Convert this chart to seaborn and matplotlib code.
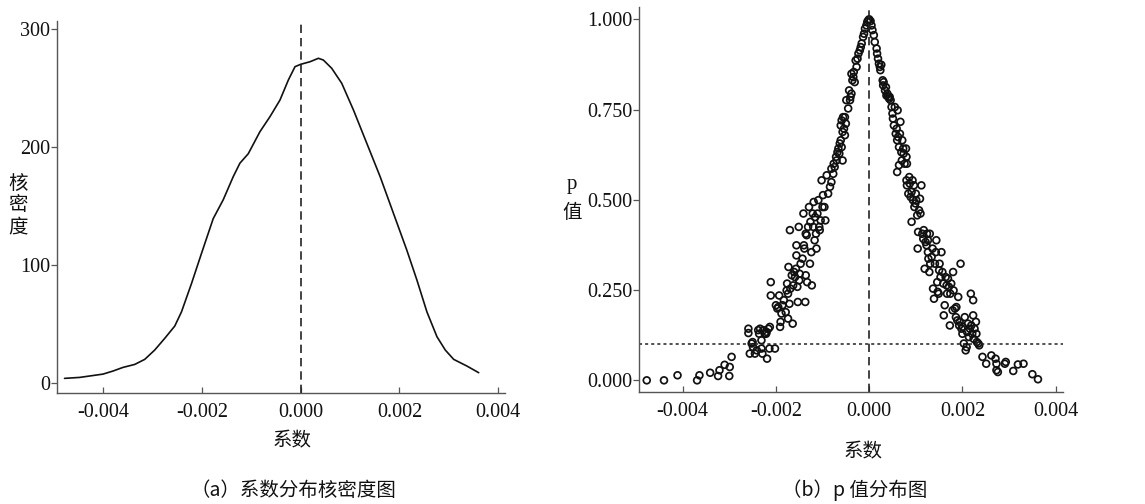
import numpy as np
import pandas as pd
import matplotlib
matplotlib.use("Agg")
import matplotlib.pyplot as plt
from matplotlib.font_manager import FontProperties
import seaborn as sns

# ---------------- data ----------------
kde_x = [-0.004785, -0.00448, -0.004007, -0.003804, -0.0036, -0.003364, -0.00316, -0.002958,
         -0.002755, -0.002552, -0.002416, -0.002213, -0.00201, -0.001773, -0.00157, -0.001367,
         -0.001232, -0.001063, -0.000826, -0.000623, -0.00042, -0.00025, -0.000115, 0.0,
         0.00019, 0.000359, 0.00046, 0.000629, 0.000832, 0.00107, 0.00134, 0.00161, 0.00188,
         0.00215, 0.002355, 0.002558, 0.002761, 0.00293, 0.0031, 0.00337, 0.003607]
kde_y = [3.7, 4.5, 7.3, 9.9, 13.0, 15.5, 19.8, 27.7, 37.6, 48.0, 60.0, 84.0, 109.6, 139.0,
         155.0, 174.6, 186.0, 194.0, 212.7, 225.4, 239.5, 256.5, 267.8, 269.8, 272.0, 274.9,
         273.4, 266.4, 253.7, 231.0, 202.8, 174.6, 143.5, 112.4, 87.0, 60.0, 39.0, 27.7, 19.8,
         14.1, 8.5]

coef = [-0.00477, -0.0044, -0.00411, -0.00369, -0.00364, -0.00341, -0.00324, -0.00321, -0.0031,
        -0.003, -0.00299, -0.00295,
        -0.00259, -0.00259, -0.00256, -0.00252, -0.0025, -0.00249, -0.00245, -0.00241, -0.00238,
        -0.00236, -0.00234, -0.00231, -0.00231, -0.00229, -0.00227, -0.00224, -0.00221, -0.0022,
        -0.00219, -0.00216, -0.00214, -0.00213, -0.00211, -0.00211, -0.00202, -0.002, -0.00197,
        -0.00195, -0.00193, -0.00191, -0.0019, -0.00188, -0.00186, -0.00183, -0.00179, -0.00177,
        -0.00176, -0.00174, -0.00174, -0.00173, -0.00171, -0.0017, -0.00169, -0.00166, -0.00164,
        -0.00163, -0.00161, -0.00159, -0.00157, -0.00156, -0.00156, -0.00154, -0.00153, -0.00151,
        -0.0015, -0.00149, -0.00147, -0.00143, -0.00141, -0.0014, -0.00139, -0.00137, -0.00136,
        -0.00136, -0.00134, -0.00133, -0.00131, -0.00129, -0.00127, -0.00126, -0.00124, -0.00123,
        -0.00121, -0.0012, -0.00119, -0.00117, -0.00116, -0.00114, -0.00113, -0.00111, -0.00109,
        -0.00107, -0.00106, -0.00104, -0.00102, -0.001, -0.00099, -0.00096, -0.00094, -0.00091,
        -0.00088, -0.00084, -0.00081, -0.00081, -0.00077, -0.00076, -0.00074, -0.00071, -0.0007,
        -0.00068, -0.00066, -0.00064, -0.00063, -0.00061, -0.00059, -0.00057, -0.00061, -0.00059,
        -0.00057, -0.00056, -0.00054, -0.00052, -0.00052, -0.0005, -0.00049, -0.00045, -0.00043,
        -0.00041, -0.0004, -0.00038, -0.00038, -0.00036, -0.00034, -0.00033, -0.00031, -0.00029,
        -0.00027, -0.00025, -0.00023, -0.0002, -0.00018, -0.00016, -0.00013, -0.00011, -0.00009,
        -0.00006, -0.00004, -0.00002, 0.0,
        0.00003, 0.00005, 0.00007, 0.0001, 0.00012, 0.00016, 0.00017, 0.00019, 0.00021, 0.00023,
        0.00024, 0.00026, 0.00029, 0.0003, 0.00031, 0.00034, 0.00036, 0.00037, 0.00039, 0.00041,
        0.00043, 0.00044, 0.00046, 0.00048, 0.0005, 0.00051, 0.00053, 0.00055, 0.00057, 0.00059,
        0.0006, 0.00061, 0.00062, 0.00064, 0.00066, 0.00067, 0.00069, 0.0007, 0.00071, 0.00073,
        0.00074, 0.00076, 0.00079, 0.0008, 0.00081, 0.0006, 0.00064, 0.0008, 0.00081, 0.00084,
        0.00086, 0.00087, 0.00089, 0.00091, 0.00091, 0.00093, 0.00094, 0.00096, 0.00097, 0.00099,
        0.001, 0.00101, 0.00103, 0.00104, 0.00105, 0.00107, 0.00109, 0.0011, 0.00112, 0.00114,
        0.00116, 0.00117, 0.00119, 0.00121, 0.00123, 0.00124, 0.00126, 0.00126, 0.00127, 0.00129,
        0.0013, 0.00131, 0.00134, 0.00136, 0.00137, 0.00139, 0.00141, 0.00143, 0.00144, 0.00146,
        0.00147, 0.00149, 0.0015, 0.00151, 0.00153, 0.00155, 0.00157, 0.00159, 0.0016, 0.00162,
        0.00164, 0.00166, 0.00167, 0.00169, 0.00171, 0.00173, 0.00174, 0.00176, 0.00179, 0.0018,
        0.00181, 0.00184, 0.00186, 0.00187, 0.00189, 0.00191, 0.00193, 0.00194, 0.00196, 0.00198,
        0.002, 0.00201, 0.00203, 0.00205, 0.00207, 0.00209, 0.0021, 0.00212, 0.00214, 0.00216,
        0.00218, 0.00219, 0.00221, 0.00223, 0.00223, 0.00224, 0.00226, 0.00229, 0.0023, 0.00231,
        0.00234, 0.00236, 0.00243, 0.00251, 0.00262, 0.00271, 0.00273, 0.00276, 0.00273, 0.00291,
        0.00293, 0.00309, 0.00319, 0.00331, 0.0035, 0.00362]
pval = [0.0, 0.0, 0.014, 0.0, 0.014, 0.021, 0.012, 0.028, 0.043, 0.012, 0.037, 0.065,
        0.143, 0.131, 0.074, 0.102, 0.106, 0.092, 0.074, 0.083, 0.139, 0.129, 0.143, 0.111,
        0.088, 0.074, 0.139, 0.129, 0.129, 0.134, 0.06, 0.143, 0.088, 0.148, 0.272, 0.235,
        0.088, 0.208, 0.199, 0.203, 0.235, 0.148, 0.162, 0.185, 0.208, 0.222, 0.189, 0.249,
        0.268, 0.24, 0.171, 0.314, 0.212, 0.416, 0.254, 0.291, 0.157, 0.263, 0.3, 0.286,
        0.309, 0.346, 0.374, 0.259, 0.217, 0.425, 0.277, 0.295, 0.323, 0.337, 0.462, 0.374,
        0.365, 0.217, 0.406, 0.291, 0.402, 0.272, 0.425, 0.48, 0.323, 0.439, 0.355, 0.263,
        0.462, 0.425, 0.494, 0.388, 0.452, 0.406, 0.365, 0.462, 0.499, 0.425, 0.416, 0.443,
        0.554, 0.48, 0.513, 0.48, 0.443, 0.568, 0.517, 0.536, 0.549, 0.586, 0.572, 0.6,
        0.591, 0.619, 0.609, 0.632, 0.642, 0.628, 0.656, 0.665, 0.646, 0.609, 0.706, 0.72,
        0.688, 0.729, 0.697, 0.679, 0.729, 0.711, 0.776, 0.753, 0.803, 0.776, 0.785, 0.794,
        0.849, 0.831, 0.84, 0.854, 0.826, 0.886, 0.868, 0.891, 0.905, 0.914, 0.923, 0.933,
        0.951, 0.96, 0.974, 0.983, 0.993, 0.997, 1.0,
        0.995, 0.983, 0.97, 0.956, 0.937, 0.919, 0.905, 0.891, 0.877, 0.868, 0.859, 0.874,
        0.831, 0.817, 0.826, 0.803, 0.812, 0.789, 0.794, 0.785, 0.78, 0.785, 0.776, 0.757,
        0.739, 0.725, 0.706, 0.757, 0.683, 0.697, 0.665, 0.748, 0.674, 0.646, 0.683, 0.716,
        0.632, 0.609, 0.665, 0.642, 0.628, 0.6, 0.642, 0.619, 0.6, 0.577, 0.596, 0.554,
        0.54, 0.517, 0.563, 0.545, 0.508, 0.522, 0.439, 0.554, 0.499, 0.54, 0.48, 0.49,
        0.517, 0.499, 0.457, 0.365, 0.411, 0.471, 0.503, 0.462, 0.54, 0.406, 0.392, 0.416,
        0.309, 0.383, 0.374, 0.406, 0.355, 0.388, 0.337, 0.3, 0.406, 0.323, 0.342, 0.365,
        0.254, 0.226, 0.323, 0.355, 0.388, 0.272, 0.245, 0.24, 0.305, 0.323, 0.286, 0.355,
        0.3, 0.268, 0.18, 0.208, 0.286, 0.263, 0.24, 0.282, 0.259, 0.152, 0.24, 0.268,
        0.194, 0.3, 0.249, 0.199, 0.175, 0.203, 0.166, 0.231, 0.152, 0.162, 0.323, 0.143,
        0.129, 0.148, 0.102, 0.175, 0.083, 0.092, 0.134, 0.157, 0.12, 0.143, 0.24, 0.152,
        0.129, 0.222, 0.18, 0.115, 0.143, 0.162, 0.129, 0.106, 0.102, 0.097, 0.065, 0.046,
        0.069, 0.06, 0.028, 0.023, 0.046, 0.046, 0.051, 0.026, 0.044, 0.046, 0.017, 0.003]

xticks = [-0.004, -0.002, 0.0, 0.002, 0.004]
xtick_labels = ["-0.004", "-0.002", "0.000", "0.002", "0.004"]
kde_yticks = [0, 100, 200, 300]
kde_ytick_labels = ["0", "100", "200", "300"]
p_yticks = [0.0, 0.25, 0.5, 0.75, 1.0]
p_ytick_labels = ["0.000", "0.250", "0.500", "0.750", "1.000"]
p_threshold = 0.1

# ---------------- style ----------------
sns.set_style("ticks")
plt.rcParams["font.family"] = ["Liberation Serif", "Noto Sans CJK SC", "DejaVu Sans"]
plt.rcParams["axes.unicode_minus"] = False

W, H = 1145, 504
fig = plt.figure(figsize=(W / 100, H / 100), dpi=100)

def px_axes(l, t, r, b):
    return fig.add_axes([l / W, 1 - b / H, (r - l) / W, (b - t) / H])

spine_col = "#555555"
tick_font = FontProperties(family="Liberation Serif", size=14.5)

def style_axes(ax):
    for s in ["top", "right"]:
        ax.spines[s].set_visible(False)
    for s in ["left", "bottom"]:
        ax.spines[s].set_color(spine_col)
        ax.spines[s].set_linewidth(1.0)
    ax.tick_params(axis="x", direction="in", length=4, width=0.9, color=spine_col,
                   pad=7, labelcolor="#111111")
    ax.tick_params(axis="y", direction="out", length=4, width=0.9, color=spine_col,
                   pad=1, labelcolor="#111111")
    for lab in ax.get_xticklabels() + ax.get_yticklabels():
        lab.set_fontproperties(tick_font)
    ax.set_xlabel("")
    ax.set_ylabel("")

# ---- left: kernel density ----
ax1 = px_axes(57, 21, 505, 393)
df_kde = pd.DataFrame({"coef": kde_x, "density": kde_y})
sns.lineplot(data=df_kde, x="coef", y="density", ax=ax1, color="#111111", linewidth=1.2)
ax1.axvline(0.0, color="#222222", linestyle=(0, (5, 3)), linewidth=1.2)
ax1.set_xlim(-0.004938, 0.00414)
ax1.set_ylim(-8.7, 306.5)
ax1.set_xticks(xticks)
ax1.set_xticklabels(xtick_labels)
ax1.set_yticks(kde_yticks)
ax1.set_yticklabels(kde_ytick_labels)
style_axes(ax1)

# ---- right: p values ----
ax2 = px_axes(639, 7, 1063, 392)
df_p = pd.DataFrame({"coef": coef, "p": pval})
sns.scatterplot(data=df_p, x="coef", y="p", ax=ax2, marker="o", s=24,
                facecolor="none", edgecolor="#111111", linewidth=1.25)
ax2.axvline(0.0, color="#222222", linestyle=(0, (5, 3)), linewidth=1.2)
ax2.axhline(p_threshold, color="#222222", linestyle=(0, (2, 2)), linewidth=1.1)
ax2.set_xlim(-0.004936, 0.004157)
ax2.set_ylim(-0.0323, 1.034)
ax2.set_xticks(xticks)
ax2.set_xticklabels(xtick_labels)
ax2.set_yticks(p_yticks)
ax2.set_yticklabels(p_ytick_labels)
style_axes(ax2)

# ---- texts ----
cjk = ["Noto Sans CJK SC", "DejaVu Sans"]
def ftext(x, y, s, **kw):
    fig.text(x / W, 1 - y / H, s, ha="center", va="center", color="#111111", **kw)

ftext(18, 205, "核\n密\n度", fontsize=14, family=cjk, linespacing=1.05)
ftext(292, 441, "系数", fontsize=14, family=cjk)
ftext(293, 490, "（a）系数分布核密度图", fontsize=14, family=cjk)

ftext(572, 185, "p", fontsize=15, family=["Liberation Serif"])
ftext(572, 212, "值", fontsize=14, family=cjk)
ftext(863, 452, "系数", fontsize=14, family=cjk)
ftext(855, 490, "（b）p 值分布图", fontsize=14, family=cjk)

fig.savefig("out.png", dpi=100)
